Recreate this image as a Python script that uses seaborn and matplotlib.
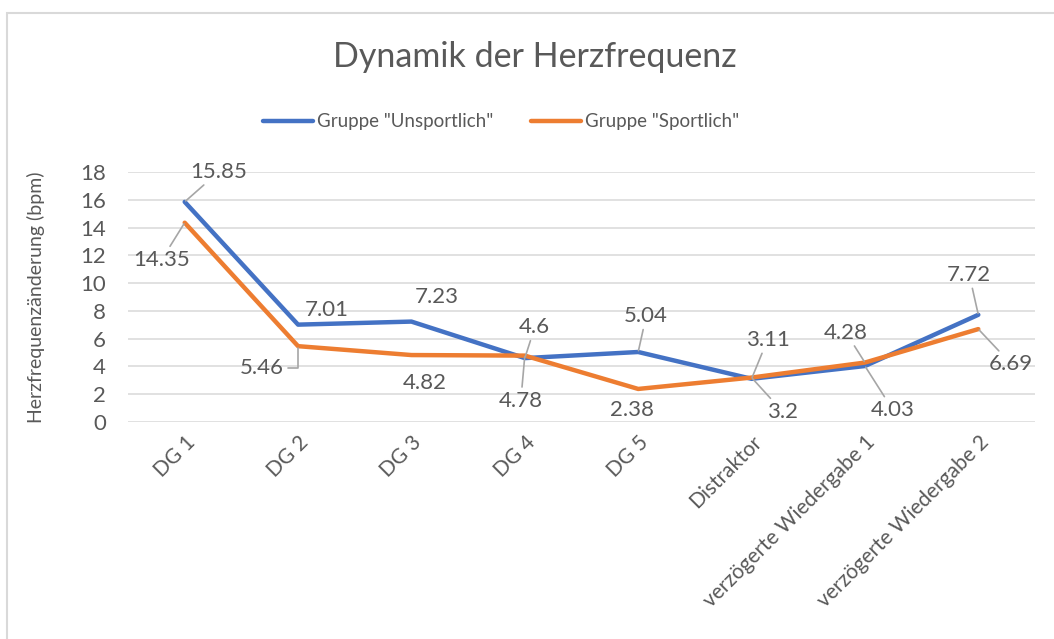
import pandas as pd
import seaborn as sns
import matplotlib.pyplot as plt
from matplotlib.patches import Rectangle

# Daten
kategorien = ['DG 1', 'DG 2', 'DG 3', 'DG 4', 'DG 5', 'Distraktor',
              'verzögerte Wiedergabe 1', 'verzögerte Wiedergabe 2']
unsportlich = [15.85, 7.01, 7.23, 4.6, 5.04, 3.11, 4.03, 7.72]
sportlich = [14.35, 5.46, 4.82, 4.78, 2.38, 3.2, 4.28, 6.69]
gruppen = ['Gruppe "Unsportlich"', 'Gruppe "Sportlich"']

df = pd.DataFrame({
    'Phase': kategorien * 2,
    'Wert': unsportlich + sportlich,
    'Gruppe': [gruppen[0]] * len(kategorien) + [gruppen[1]] * len(kategorien),
})

sns.set_theme(style='white')
plt.rcParams['font.family'] = ['Lato', 'DejaVu Sans']
grau = '#595959'

fig = plt.figure(figsize=(10.54, 6.39), dpi=100)
ax = fig.add_axes([128 / 1054, 1 - 422 / 639, 907 / 1054, 250 / 639])

sns.lineplot(data=df, x='Phase', y='Wert', hue='Gruppe', sort=False,
             palette=['#4472C4', '#ED7D31'], linewidth=3.2, ax=ax, legend=True)

ax.set_ylim(0, 18)
ax.set_yticks(range(0, 19, 2))
ax.set_xlim(-0.5, len(kategorien) - 0.5)
ax.grid(axis='y', color='#d9d9d9', linewidth=1.1)
ax.set_axisbelow(True)
for s in ax.spines.values():
    s.set_visible(False)
ax.tick_params(axis='y', length=0, pad=16, labelsize=16, labelcolor=grau)
ax.tick_params(axis='x', length=0, pad=7, labelsize=15, labelcolor=grau)
for lab in ax.get_xticklabels():
    lab.set_rotation(45)
    lab.set_ha('right')
    lab.set_va('top')
    lab.set_rotation_mode('anchor')

ax.set_xlabel('')
ax.set_ylabel('Herzfrequenzänderung (bpm)', fontsize=14, color=grau)
ax.yaxis.set_label_coords(-0.092, 0.5)

# Datenbeschriftungen: (dx, dy) in Pixeln, Führungslinie ja/nein
pos_u = [(34, 30, True), (29, 15, False), (25, 25, False), (10, 31, True),
         (8, 36, True), (16, 39, True), (28, -44, True), (-9, 40, True)]
pos_s = [(-23, -37, True), (-36, -22, 'knick'), (13, -28, False), (-4, -45, True),
         (-6, -21, False), (31, -34, True), (-19, 30, True), (33, -35, True)]

for werte, positionen in [(unsportlich, pos_u), (sportlich, pos_s)]:
    for i, (v, (dx, dy, leader)) in enumerate(zip(werte, positionen)):
        arrow = None
        if leader:
            arrow = dict(arrowstyle='-', color='#a6a6a6', lw=1.2, shrinkA=1, shrinkB=1)
            if leader == 'knick':
                arrow['connectionstyle'] = 'angle,angleA=0,angleB=90,rad=0'
        ax.annotate(f'{v:g}', xy=(i, v), xytext=(dx, dy),
                    textcoords='offset pixels', ha='center', va='center',
                    fontsize=16, color=grau, arrowprops=arrow,
                    bbox=dict(boxstyle='square,pad=0.1', fc='none', ec='none'))

handles, labels = ax.get_legend_handles_labels()
ax.get_legend().remove()
fig.legend(handles, labels, loc='center', bbox_to_anchor=(501 / 1054, 1 - 122 / 639),
           ncol=2, frameon=False, fontsize=13.5, labelcolor=grau,
           handlelength=2.7, handletextpad=0.2, columnspacing=2.0)

fig.text(535 / 1054, 1 - 57 / 639, 'Dynamik der Herzfrequenz', ha='center', va='center',
         fontsize=24.5, color=grau)

fig.patches.append(Rectangle((7 / 1054, -0.1), 1.0, 1.1 - 13 / 639, transform=fig.transFigure,
                             fill=False, ec='#d9d9d9', lw=1.5))

plt.savefig('out.png', dpi=100)
